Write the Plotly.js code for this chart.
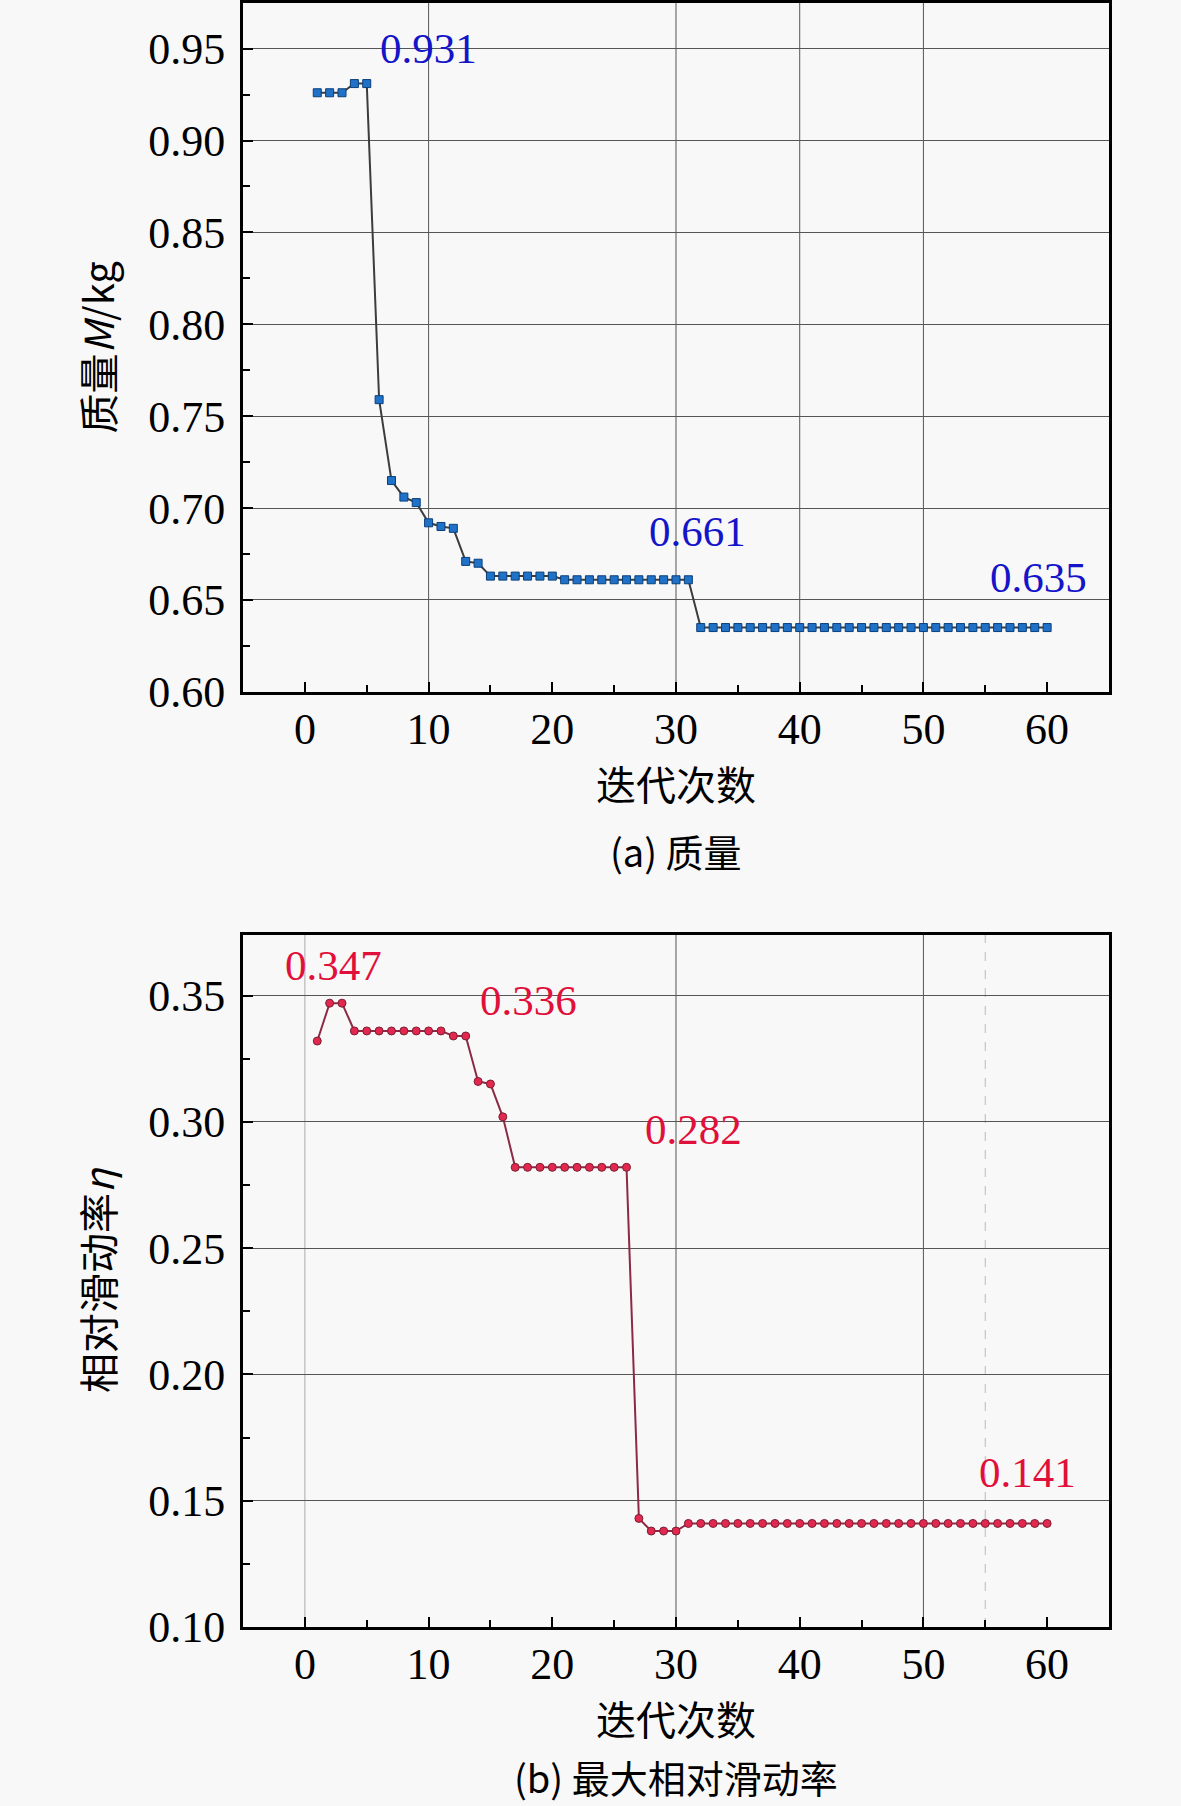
<!DOCTYPE html>
<html>
<head>
<meta charset="utf-8">
<script src="https://cdn.plot.ly/plotly-3.0.1.min.js"></script>
<style>
  body { margin: 0; background: #f8f8f8; }
  #chart { width: 1181px; height: 1806px; }
</style>
</head>
<body>
<div id="chart"></div>
<script>
var iterations = [];
for (var i = 1; i <= 60; i++) iterations.push(i);

// (a) mass M / kg per iteration
var massValues = [
  0.926, 0.926, 0.926, 0.931, 0.931, 0.759, 0.715, 0.706, 0.703, 0.692,
  0.690, 0.689, 0.671, 0.670, 0.663, 0.663, 0.663, 0.663, 0.663, 0.663,
  0.661, 0.661, 0.661, 0.661, 0.661, 0.661, 0.661, 0.661, 0.661, 0.661,
  0.661, 0.635, 0.635, 0.635, 0.635, 0.635, 0.635, 0.635, 0.635, 0.635,
  0.635, 0.635, 0.635, 0.635, 0.635, 0.635, 0.635, 0.635, 0.635, 0.635,
  0.635, 0.635, 0.635, 0.635, 0.635, 0.635, 0.635, 0.635, 0.635, 0.635
];

// (b) max relative sliding rate eta per iteration
var slideValues = [
  0.332, 0.347, 0.347, 0.336, 0.336, 0.336, 0.336, 0.336, 0.336, 0.336,
  0.336, 0.334, 0.334, 0.316, 0.315, 0.302, 0.282, 0.282, 0.282, 0.282,
  0.282, 0.282, 0.282, 0.282, 0.282, 0.282, 0.143, 0.138, 0.138, 0.138,
  0.141, 0.141, 0.141, 0.141, 0.141, 0.141, 0.141, 0.141, 0.141, 0.141,
  0.141, 0.141, 0.141, 0.141, 0.141, 0.141, 0.141, 0.141, 0.141, 0.141,
  0.141, 0.141, 0.141, 0.141, 0.141, 0.141, 0.141, 0.141, 0.141, 0.141
];

var massLabels = ['0.931', '0.661', '0.635'];
var massLabelX = [10, 31.7, 59.3];
var massLabelY = [0.950, 0.687, 0.662];

var slideLabels = ['0.347', '0.336', '0.282', '0.141'];
var slideLabelX = [2.3, 18.1, 31.4, 58.4];
var slideLabelY = [0.362, 0.348, 0.297, 0.161];

var gridTop = [10, 30, 40, 50];
var gridBottom = [0, 30, 50];

var FONT = 'Liberation Serif, "Noto Sans CJK SC", serif';
var CJK = '"Noto Sans CJK SC", Liberation Serif, serif';

var traceMass = {
  x: iterations, y: massValues,
  xaxis: 'x', yaxis: 'y',
  type: 'scatter', mode: 'lines+markers',
  line: {color: '#3c3c3c', width: 2},
  marker: {symbol: 'square', size: 8, color: '#1f72c8', line: {color: '#0b3f7a', width: 1}},
  showlegend: false
};

var traceSlide = {
  x: iterations, y: slideValues,
  xaxis: 'x2', yaxis: 'y2',
  type: 'scatter', mode: 'lines+markers',
  line: {color: '#8c2a45', width: 2},
  marker: {symbol: 'circle', size: 8, color: '#e2284f', line: {color: '#7a1f33', width: 1}},
  showlegend: false
};

function xAxis(domain, anchor) {
  return {
    domain: domain, anchor: anchor,
    range: [-5, 65], dtick: 10, tick0: 0,
    showgrid: false, zeroline: false,
    showline: true, mirror: true, linecolor: '#000', linewidth: 3,
    ticks: 'inside', ticklen: 10, tickwidth: 2, tickcolor: '#000',
    minor: {dtick: 5, ticks: 'inside', ticklen: 7, tickwidth: 2, tickcolor: '#000', showgrid: false},
    tickfont: {family: FONT, size: 44, color: '#000'},
    ticklabelstandoff: -4,
    title: {text: '迭代次数', font: {family: CJK, size: 40, color: '#000'}, standoff: 14}
  };
}

function yAxis(domain, anchor, range, title) {
  return {
    domain: domain, anchor: anchor,
    range: range, dtick: 0.05, tickformat: '.2f',
    showgrid: true, gridcolor: '#555', gridwidth: 1, zeroline: false,
    showline: true, mirror: true, linecolor: '#000', linewidth: 3,
    ticks: 'inside', ticklen: 10, tickwidth: 2, tickcolor: '#000',
    minor: {dtick: 0.025, ticks: 'inside', ticklen: 7, tickwidth: 2, tickcolor: '#000', showgrid: false},
    tickfont: {family: FONT, size: 44, color: '#000'},
    ticklabelstandoff: 6,
    title: {text: title, font: {family: CJK, size: 40, color: '#000'}, standoff: 22}
  };
}

var shapes = [];
gridTop.forEach(function (v) {
  shapes.push({type: 'line', xref: 'x', yref: 'y domain', x0: v, x1: v, y0: 0, y1: 1,
    line: {color: '#555', width: 1}, layer: 'below'});
});
gridBottom.forEach(function (v) {
  shapes.push({type: 'line', xref: 'x2', yref: 'y2 domain', x0: v, x1: v, y0: 0, y1: 1,
    line: {color: v === 0 ? '#aaa' : '#555', width: 1}, layer: 'below'});
});
shapes.push({type: 'line', xref: 'x2', yref: 'y2 domain', x0: 55, x1: 55, y0: 0, y1: 1,
  line: {color: '#bbb', width: 1, dash: 'dash'}, layer: 'below'});

var annotations = [];
massLabels.forEach(function (t, k) {
  annotations.push({text: t, x: massLabelX[k], y: massLabelY[k], xref: 'x', yref: 'y',
    showarrow: false, font: {family: FONT, size: 43, color: '#1414c8'}});
});
slideLabels.forEach(function (t, k) {
  annotations.push({text: t, x: slideLabelX[k], y: slideLabelY[k], xref: 'x2', yref: 'y2',
    showarrow: false, font: {family: FONT, size: 43, color: '#e0103a'}});
});
annotations.push({text: '(a) 质量', x: 0.572, y: 0.5293, xref: 'paper', yref: 'paper',
  xanchor: 'center', yanchor: 'middle',
  showarrow: false, font: {family: CJK, size: 38, color: '#000'}});
annotations.push({text: '(b) 最大相对滑动率', x: 0.572, y: 0.0161, xref: 'paper', yref: 'paper',
  xanchor: 'center', yanchor: 'middle',
  showarrow: false, font: {family: CJK, size: 38, color: '#000'}});

var layout = {
  width: 1181, height: 1806,
  margin: {l: 0, r: 0, t: 0, b: 0},
  paper_bgcolor: '#f8f8f8', plot_bgcolor: '#f8f8f8',
  xaxis: xAxis([0.2058, 0.939], 'y'),
  yaxis: yAxis([0.6169, 0.9985], 'x', [0.6, 0.975], '质量<i>M</i>/kg'),
  xaxis2: xAxis([0.2058, 0.939], 'y2'),
  yaxis2: yAxis([0.0991, 0.4823], 'x2', [0.10, 0.374], '相对滑动率<i>η</i>'),
  shapes: shapes,
  annotations: annotations
};

Plotly.newPlot('chart', [traceMass, traceSlide], layout, {displayModeBar: false, staticPlot: true});
</script>
</body>
</html>
